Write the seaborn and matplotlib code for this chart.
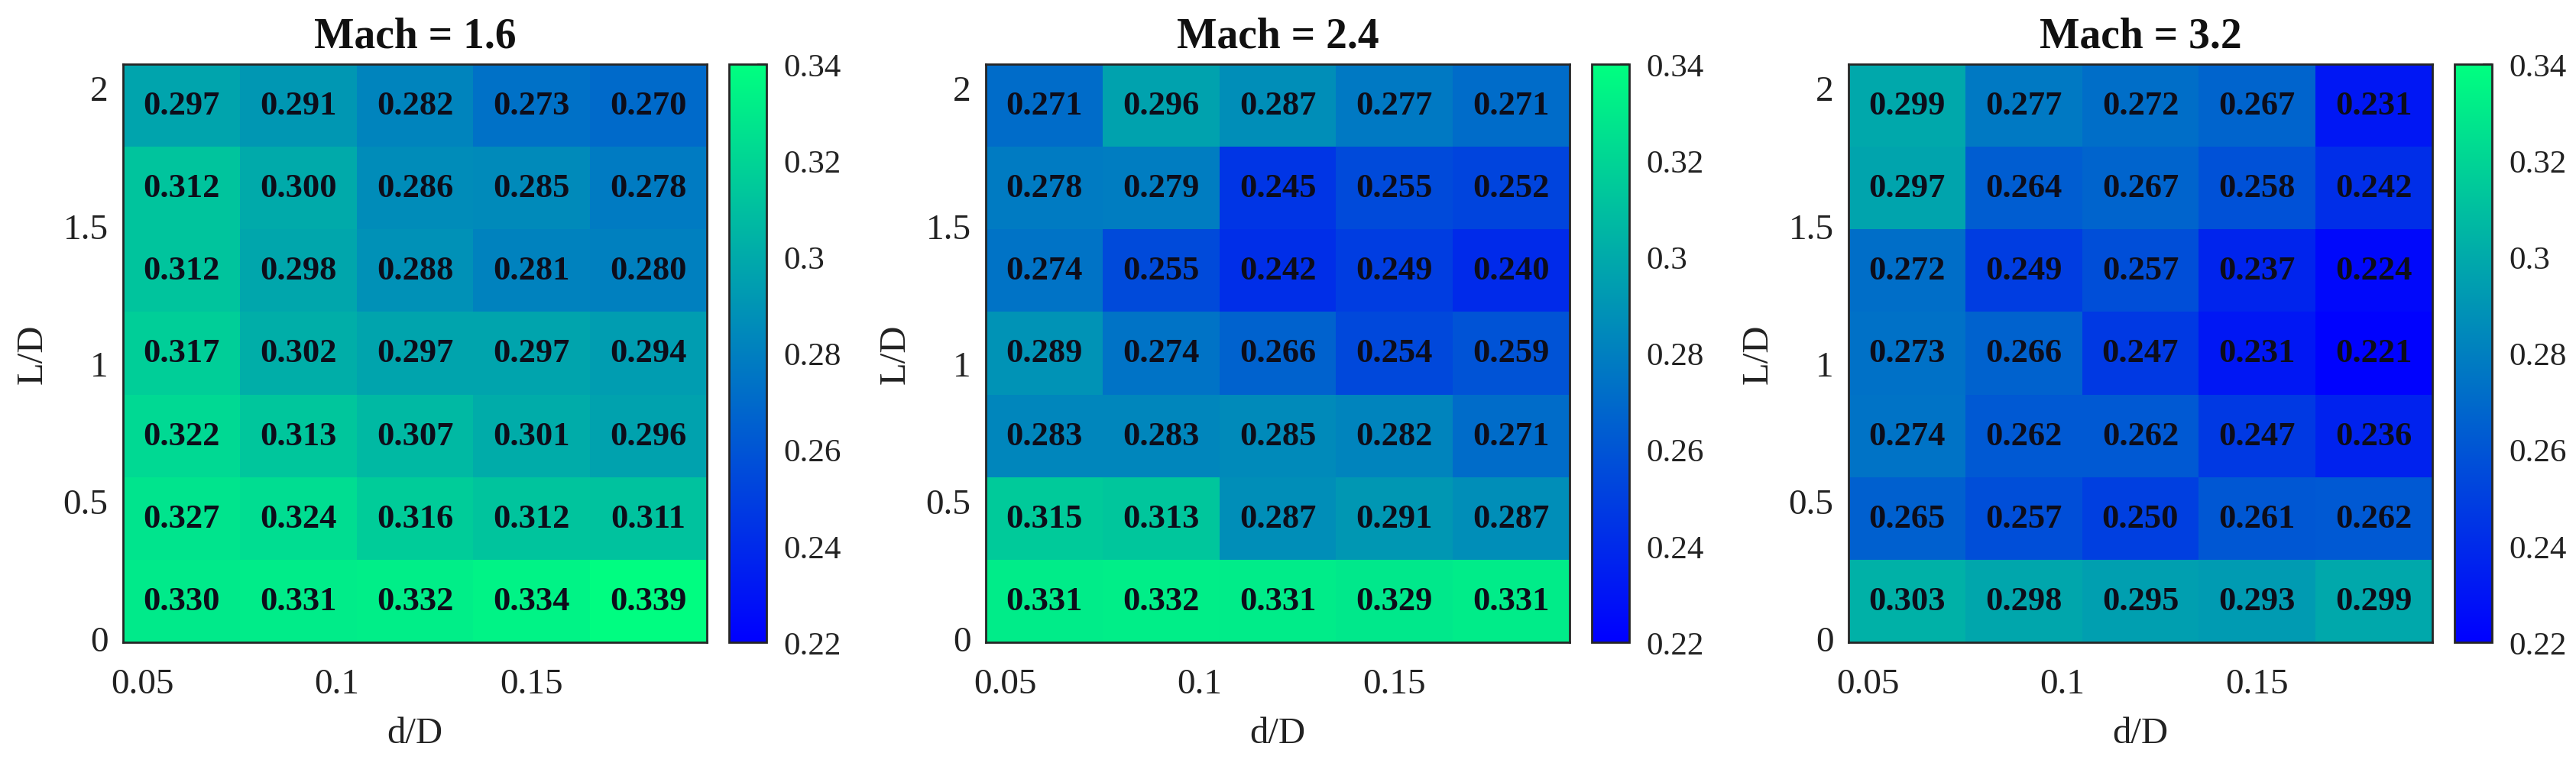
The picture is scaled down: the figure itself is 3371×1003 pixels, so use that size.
import numpy as np
import pandas as pd
import matplotlib
matplotlib.use("Agg")
import matplotlib.pyplot as plt
import seaborn as sns

# ---------------- data ----------------
d_D = [0.06, 0.09, 0.12, 0.15, 0.18]                      # column centres
L_D = [0.15, 0.45, 0.75, 1.05, 1.35, 1.65, 1.95]           # row centres (bottom -> top)
mach_titles = ["Mach = 1.6", "Mach = 2.4", "Mach = 3.2"]

# rows listed from L/D = 0.15 (bottom) to L/D = 1.95 (top)
mach16 = [
    [0.330, 0.331, 0.332, 0.334, 0.339],
    [0.327, 0.324, 0.316, 0.312, 0.311],
    [0.322, 0.313, 0.307, 0.301, 0.296],
    [0.317, 0.302, 0.297, 0.297, 0.294],
    [0.312, 0.298, 0.288, 0.281, 0.280],
    [0.312, 0.300, 0.286, 0.285, 0.278],
    [0.297, 0.291, 0.282, 0.273, 0.270],
]
mach24 = [
    [0.331, 0.332, 0.331, 0.329, 0.331],
    [0.315, 0.313, 0.287, 0.291, 0.287],
    [0.283, 0.283, 0.285, 0.282, 0.271],
    [0.289, 0.274, 0.266, 0.254, 0.259],
    [0.274, 0.255, 0.242, 0.249, 0.240],
    [0.278, 0.279, 0.245, 0.255, 0.252],
    [0.271, 0.296, 0.287, 0.277, 0.271],
]
mach32 = [
    [0.303, 0.298, 0.295, 0.293, 0.299],
    [0.265, 0.257, 0.250, 0.261, 0.262],
    [0.274, 0.262, 0.262, 0.247, 0.236],
    [0.273, 0.266, 0.247, 0.231, 0.221],
    [0.272, 0.249, 0.257, 0.237, 0.224],
    [0.297, 0.264, 0.267, 0.258, 0.242],
    [0.299, 0.277, 0.272, 0.267, 0.231],
]

x_ticks = [0.05, 0.1, 0.15]
x_ticklabels = ["0.05", "0.1", "0.15"]
y_ticks = [0, 0.5, 1, 1.5, 2]
y_ticklabels = ["0", "0.5", "1", "1.5", "2"]
c_ticks = [0.22, 0.24, 0.26, 0.28, 0.30, 0.32, 0.34]
c_ticklabels = ["0.22", "0.24", "0.26", "0.28", "0.3", "0.32", "0.34"]
vmin, vmax = 0.22, 0.34

# ---------------- style ----------------
sns.set_style("white")
plt.rcParams["font.family"] = ["Liberation Serif", "DejaVu Serif"]
edge = "#262626"

W, H, DPI = 3371, 1004, 100
fig = plt.figure(figsize=(W / DPI, H / DPI), dpi=DPI)

lefts_px = [161, 1290, 2419]
ax_w_px = 764
top_px, bot_px = 85, 842
cb_gap_px, cb_w_px = 29, 49

dx = d_D[1] - d_D[0]
dy = L_D[1] - L_D[0]
x0 = d_D[0] - dx / 2
y0 = L_D[0] - dy / 2

for title, vals, lp in zip(mach_titles, [mach16, mach24, mach32], lefts_px):
    ax = fig.add_axes([lp / W, 1 - bot_px / H, ax_w_px / W, (bot_px - top_px) / H])
    cax = fig.add_axes([(lp + ax_w_px + cb_gap_px) / W, 1 - bot_px / H,
                        cb_w_px / W, (bot_px - top_px) / H])
    df = pd.DataFrame(vals, index=L_D, columns=d_D)
    sns.heatmap(df, ax=ax, cbar_ax=cax, cmap="winter", vmin=vmin, vmax=vmax,
                annot=True, fmt=".3f",
                annot_kws={"color": "#0d0d1a", "fontsize": 32, "fontweight": "bold"})
    ax.set_ylim(0, len(L_D))
    ax.set_xlim(0, len(d_D))

    ax.set_xticks([(v - x0) / dx for v in x_ticks])
    ax.set_xticklabels(x_ticklabels, rotation=0)
    ax.set_yticks([(v - y0) / dy for v in y_ticks])
    ax.set_yticklabels(y_ticklabels, rotation=0)
    ax.tick_params(axis="both", direction="in", length=9, width=1.5, colors=edge,
                   labelcolor="#222222", labelsize=34, top=True, right=True,
                   bottom=True, left=True)
    ax.tick_params(axis="x", pad=24)
    ax.tick_params(axis="y", pad=14)
    for s in ax.spines.values():
        s.set_visible(True)
        s.set_color(edge)
        s.set_linewidth(2)
    ax.set_xlabel("d/D", fontsize=35, color="#222222", labelpad=15)
    ax.set_ylabel("L/D", fontsize=35, color="#222222", labelpad=13)
    ax.set_title(title, fontsize=40, fontweight="bold", color="#111111", pad=16)

    cb = ax.collections[0].colorbar
    cb.set_ticks(c_ticks)
    cb.set_ticklabels(c_ticklabels)
    cb.outline.set_linewidth(2)
    cb.outline.set_edgecolor(edge)
    cax.tick_params(direction="in", length=9, width=1.5, colors=edge,
                    labelcolor="#222222", labelsize=31, pad=16)

fig.savefig("out.png", dpi=DPI)
